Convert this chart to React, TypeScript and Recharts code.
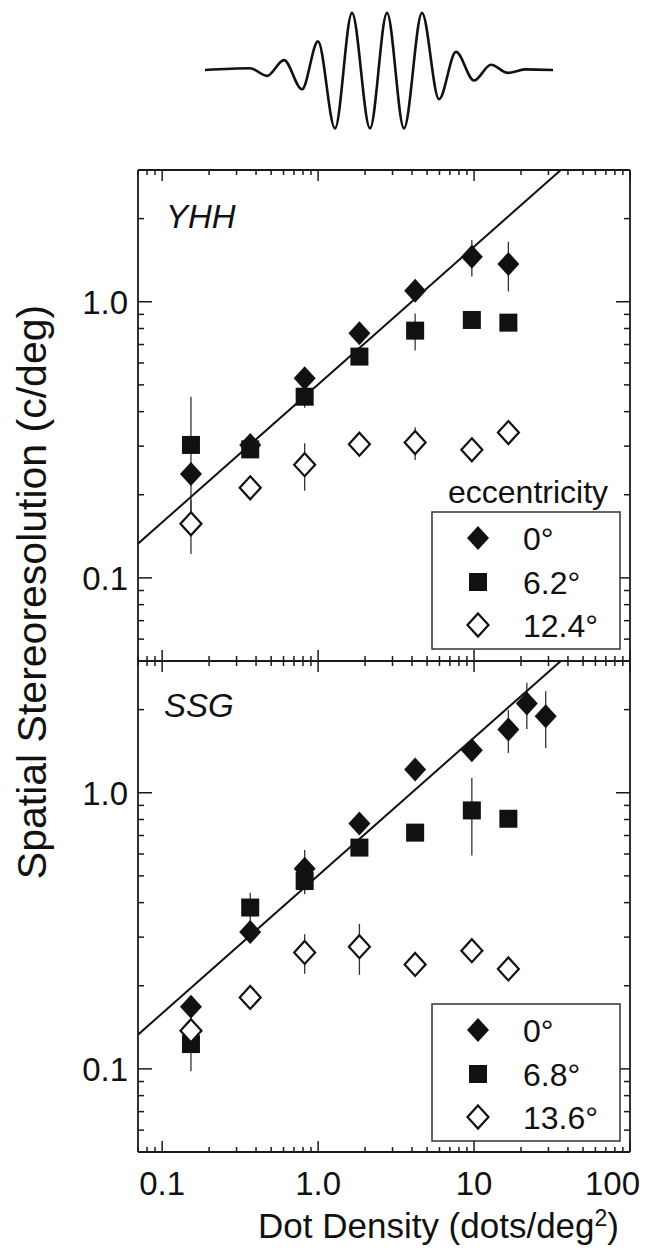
import { ComposedChart, LineChart, Line, Scatter, XAxis, YAxis, ErrorBar } from "recharts";

const FONT = "'Liberation Sans', Arial, Helvetica, sans-serif";
const INK = "#111";
const AXIS = "#1a1a1a";

// wave sketch above the panels: extrema
const wavePos = [205, 250, 267, 284, 302, 318, 335, 352, 370, 387, 404, 422, 439, 456, 474, 491, 508, 525, 553];
const waveAmp = [0, 0.03, -0.1, 0.17, -0.33, 0.49, -1, 0.98, -1, 0.98, -1, 0.98, -0.5, 0.31, -0.18, 0.09, -0.05, 0.01, 0];

// dot density (dots/deg^2)
const densities = [0.153, 0.367, 0.82, 1.84, 4.19, 9.68, 16.6];
const densitiesFine = [0.153, 0.367, 0.82, 1.84, 4.19, 9.68, 16.6, 21.8, 28.8];

// YHH (c/deg)
const yhh0 = [0.238, 0.303, 0.528, 0.769, 1.096, 1.454, 1.369];
const yhh0Err = [0.02, 0.02, 0.04, 0.04, 0.05, 0.22, 0.28];
const yhh62 = [0.303, 0.292, 0.453, 0.633, 0.786, 0.859, 0.84];
const yhh62Err = [0.15, 0.02, 0.04, 0.04, 0.12, 0.06, 0.05];
const yhh124 = [0.157, 0.212, 0.257, 0.305, 0.309, 0.291, 0.336];
const yhh124Err = [0.035, 0.01, 0.05, 0.03, 0.042, 0.01, 0.015];

// SSG (c/deg)
const ssg0 = [0.168, 0.313, 0.531, 0.774, 1.214, 1.426, 1.694, 2.103, 1.892];
const ssg0Err = [0.01, 0.02, 0.09, 0.03, 0.03, 0.05, 0.3, 0.4, 0.44];
const ssg68 = [0.123, 0.384, 0.479, 0.633, 0.717, 0.863, 0.805];
const ssg68Err = [0.025, 0.05, 0.05, 0.02, 0.03, 0.27, 0.04];
const ssg136 = [0.1375, 0.1815, 0.264, 0.277, 0.239, 0.268, 0.23];
const ssg136Err = [0.01, 0.01, 0.043, 0.058, 0.01, 0.01, 0.01];

// slope-1/2 line drawn in both panels
const fitX = [0.07, 36];
const fitY = [0.133, 3.0];

const xTicks = [0.07, 0.08, 0.09, 0.1, 0.2, 0.3, 0.4, 0.5, 0.6, 0.7, 0.8, 0.9, 1, 2, 3, 4, 5, 6, 7, 8, 9, 10, 20, 30, 40, 50, 60, 70, 80, 90, 100];
const xTickLabels: Record<string, string> = { "0.1": "0.1", "1": "1.0", "10": "10", "100": "100" };
const yTicks = [0.05, 0.06, 0.07, 0.08, 0.09, 0.1, 0.2, 0.3, 0.4, 0.5, 0.6, 0.7, 0.8, 0.9, 1, 2, 3];
const yTickLabels: Record<string, string> = { "0.1": "0.1", "1": "1.0" };

const legendYHH = ["0°", "6.2°", "12.4°"];
const legendSSG = ["0°", "6.8°", "13.6°"];

const rows = (xs: number[], ys: number[], es: number[]) => ys.map((y, i) => ({ x: xs[i], y, err: es[i] }));
const isMajor = (v: number) => Math.abs(Math.log10(v) - Math.round(Math.log10(v))) < 1e-6;

const filledDiamond = (p: any) =>
  p.cx == null ? <g /> : (
    <path d={`M${p.cx},${p.cy - 12}L${p.cx + 11},${p.cy}L${p.cx},${p.cy + 12}L${p.cx - 11},${p.cy}Z`} fill={INK} />
  );
const openDiamond = (p: any) =>
  p.cx == null ? <g /> : (
    <path d={`M${p.cx},${p.cy - 11.5}L${p.cx + 10.5},${p.cy}L${p.cx},${p.cy + 11.5}L${p.cx - 10.5},${p.cy}Z`} fill="#fff" stroke={INK} strokeWidth={2.2} />
  );
const square = (p: any) => (p.cx == null ? <g /> : <rect x={p.cx - 9} y={p.cy - 9} width={18} height={18} fill={INK} />);
const noDot = () => <g />;

const xTick = (dir: number, labels: boolean) => (p: any) => {
  const v = p.payload.value;
  const major = isMajor(v);
  const label = labels ? xTickLabels[String(v)] : undefined;
  return (
    <g>
      <line x1={p.x} x2={p.x} y1={p.y} y2={p.y + dir * (major ? 11 : 5)} stroke={AXIS} strokeWidth={1.5} />
      {label && (
        <text x={v === 100 ? p.x + 10 : p.x} y={p.y + 43} textAnchor={v === 100 ? "end" : "middle"} fontFamily={FONT} fontSize={33} fill={INK}>
          {label}
        </text>
      )}
    </g>
  );
};

const yTick = (dir: number, labels: boolean) => (p: any) => {
  const v = p.payload.value;
  const major = isMajor(v);
  const label = labels ? yTickLabels[String(v)] : undefined;
  return (
    <g>
      <line x1={p.x} x2={p.x + dir * (major ? 14 : 6)} y1={p.y} y2={p.y} stroke={AXIS} strokeWidth={1.5} />
      {label && (
        <text x={p.x - 10} y={p.y} dy="0.36em" textAnchor="end" fontFamily={FONT} fontSize={33} fill={INK}>
          {label}
        </text>
      )}
    </g>
  );
};

// each panel: plot box from x 138 to 630, vertical extent set by the margins (axes 1px thick)
function Panel(props: {
  top: number;
  bottomAxis: number;
  bottomMargin: number;
  labels: boolean;
  xs0: number[];
  s0: number[];
  e0: number[];
  s1: number[];
  e1: number[];
  s2: number[];
  e2: number[];
}) {
  const axisLine = { stroke: AXIS, strokeWidth: 1.8 };
  const fit = fitX.map((x, i) => ({ x, y: fitY[i] }));
  return (
    <div style={{ position: "absolute", left: 0, top: 0 }}>
      <ComposedChart width={652} height={1259} margin={{ top: props.top - 1, right: 21, bottom: props.bottomMargin, left: 0 }}>
        <XAxis xAxisId="b" type="number" dataKey="x" scale="log" domain={[0.07, 100]} allowDataOverflow ticks={xTicks} interval={0}
          tickSize={0} tickMargin={0} tickLine={false} height={props.bottomAxis} axisLine={axisLine} tick={xTick(-1, props.labels)} />
        <XAxis xAxisId="t" orientation="top" type="number" dataKey="x" scale="log" domain={[0.07, 100]} allowDataOverflow ticks={xTicks} interval={0}
          tickSize={0} tickMargin={0} tickLine={false} height={1} axisLine={axisLine} tick={xTick(1, false)} />
        <YAxis yAxisId="l" type="number" dataKey="y" scale="log" domain={[0.05, 3]} allowDataOverflow ticks={yTicks} interval={0}
          tickSize={0} tickMargin={0} tickLine={false} width={138} axisLine={axisLine} tick={yTick(1, true)} />
        <YAxis yAxisId="r" orientation="right" type="number" dataKey="y" scale="log" domain={[0.05, 3]} allowDataOverflow ticks={yTicks} interval={0}
          tickSize={0} tickMargin={0} tickLine={false} width={1} axisLine={axisLine} tick={yTick(-1, false)} />
        <Scatter xAxisId="b" yAxisId="l" data={fit} line={{ stroke: INK, strokeWidth: 2 }} shape={noDot} isAnimationActive={false} />
        <Scatter xAxisId="b" yAxisId="l" data={rows(props.xs0, props.s0, props.e0)} shape={filledDiamond} isAnimationActive={false}>
          <ErrorBar dataKey="err" direction="y" width={0} stroke="#333" strokeWidth={1.3} />
        </Scatter>
        <Scatter xAxisId="b" yAxisId="l" data={rows(densities, props.s1, props.e1)} shape={square} isAnimationActive={false}>
          <ErrorBar dataKey="err" direction="y" width={0} stroke="#333" strokeWidth={1.3} />
        </Scatter>
        <Scatter xAxisId="b" yAxisId="l" data={rows(densities, props.s2, props.e2)} shape={openDiamond} isAnimationActive={false}>
          <ErrorBar dataKey="err" direction="y" width={0} stroke="#333" strokeWidth={1.3} />
        </Scatter>
      </ComposedChart>
    </div>
  );
}

function Key({ top, labels }: { top: number; labels: string[] }) {
  const marks = [filledDiamond, square, openDiamond];
  const rowY = [26, 70, 113];
  return (
    <g>
      <rect x={432} y={top} width={188} height={137} fill="#fff" stroke="#333" strokeWidth={1.5} />
      {labels.map((t, i) => (
        <g key={t}>
          {marks[i]({ cx: 478, cy: top + rowY[i] })}
          <text x={523} y={top + rowY[i]} dy="0.36em" fontFamily={FONT} fontSize={32} fill={INK}>
            {t}
          </text>
        </g>
      ))}
    </g>
  );
}

export default function App() {
  const wave = wavePos.map((x, i) => ({ x, y: waveAmp[i] }));
  return (
    <div style={{ position: "absolute", left: 0, top: 0, width: 652, height: 1259, background: "#fff" }}>
      <div style={{ position: "absolute", left: 200, top: -5 }}>
        <LineChart width={358} height={150} data={wave} margin={{ top: 5, right: 5, bottom: 5, left: 5 }}>
          <XAxis type="number" dataKey="x" domain={[205, 553]} hide />
          <YAxis type="number" domain={[-1.2, 1.2]} hide width={0} />
          <Line type="monotone" dataKey="y" stroke={INK} strokeWidth={2.6} dot={false} isAnimationActive={false} />
        </LineChart>
      </div>
      <Panel top={170} bottomAxis={1} bottomMargin={597} labels={false}
        xs0={densities} s0={yhh0} e0={yhh0Err} s1={yhh62} e1={yhh62Err} s2={yhh124} e2={yhh124Err} />
      <Panel top={661} bottomAxis={107} bottomMargin={0} labels={true}
        xs0={densitiesFine} s0={ssg0} e0={ssg0Err} s1={ssg68} e1={ssg68Err} s2={ssg136} e2={ssg136Err} />
      <svg width={652} height={1259} style={{ position: "absolute", left: 0, top: 0, pointerEvents: "none" }}>
        <text x={166} y={228} fontFamily={FONT} fontSize={33} fontStyle="italic" fill={INK}>YHH</text>
        <text x={164} y={717} fontFamily={FONT} fontSize={33} fontStyle="italic" fill={INK}>SSG</text>
        <text x={448} y={503} fontFamily={FONT} fontSize={32} fill={INK}>eccentricity</text>
        <Key top={512} labels={legendYHH} />
        <Key top={1004} labels={legendSSG} />
        <text x={258} y={1238} fontFamily={FONT} fontSize={35} fill={INK}>
          Dot Density (dots/deg<tspan dy={-12} fontSize={23}>2</tspan><tspan dy={12}>)</tspan>
        </text>
        <text transform="translate(46,592) rotate(-90)" textAnchor="middle" fontFamily={FONT} fontSize={41} fill={INK}>
          Spatial Stereoresolution (c/deg)
        </text>
      </svg>
    </div>
  );
}
